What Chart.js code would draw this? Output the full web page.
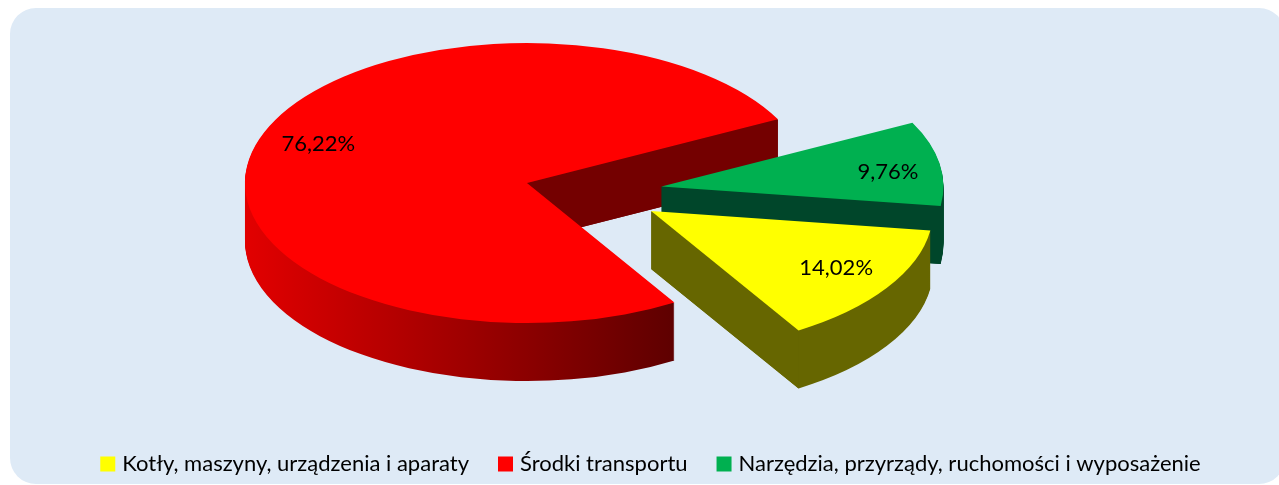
<!DOCTYPE html>
<html lang="pl">
<head>
<meta charset="utf-8">
<title>Struktura</title>
<script src="https://cdn.jsdelivr.net/npm/chart.js@4"></script>
<style>
html,body{margin:0;padding:0;background:#fff;overflow:hidden}
canvas{display:block}
</style>
</head>
<body>
<canvas id="c" width="1279" height="485"></canvas>
<script>
const categories = ['Kotły, maszyny, urządzenia i aparaty', 'Środki transportu', 'Narzędzia, przyrządy, ruchomości i wyposażenie'];
const shares = [14.02, 76.22, 9.76];
const valueLabels = ['14,02%', '76,22%', '9,76%'];
const topColors = ['#FFFF00', '#FF0000', '#00B050'];
const sideLeftColors = ['#666600', '#E20000', '#00462A'];
const sideRightColors = ['#666600', '#5E0000', '#00462A'];
const faceColors = ['#666600', '#740000', '#00462A'];
const paintOrder = [1, 2, 0];

const FONT = 'Lato, Carlito, sans-serif';
const view = {cx: 593.4, cy: 192.3, tilt: 0.4965, depth: 58, explode: 69};
const labelPlace = [{turn: -1.7, r: 0.77}, {turn: 4.8, r: 0.79}, {turn: 2, r: 0.81}];

function mapper(chart, arc) {
  const mid = (arc.startAngle + arc.endAngle) / 2;
  const dx = Math.cos(mid) * view.explode, dy = Math.sin(mid) * view.explode;
  return (angle, rad, down) => ({
    x: view.cx + dx + Math.cos(angle) * rad,
    y: view.cy + (dy + Math.sin(angle) * rad) * view.tilt + down
  });
}

function drawArcAt(ctx, arc, fill, down) {
  const mid = (arc.startAngle + arc.endAngle) / 2;
  ctx.save();
  ctx.translate(view.cx, view.cy + down);
  ctx.scale(1, view.tilt);
  ctx.translate(Math.cos(mid) * view.explode, Math.sin(mid) * view.explode);
  ctx.translate(-arc.x, -arc.y);
  const saved = arc.options;
  arc.options = Object.assign(Object.create(saved), {backgroundColor: fill});
  arc.draw(ctx);
  arc.options = saved;
  ctx.restore();
}

const tiltedPie = {
  id: 'tiltedPie',
  beforeDraw(chart) {
    const ctx = chart.ctx;
    ctx.save();
    ctx.fillStyle = '#DEEAF6';
    ctx.beginPath();
    ctx.roundRect(10, 8, 1275, 476, 26);
    ctx.fill();
    ctx.restore();
  },
  beforeDatasetDraw(chart, args) {
    const ctx = chart.ctx;
    const arcs = args.meta.data;
    paintOrder.forEach(i => {
      const arc = arcs[i];
      const R = arc.outerRadius;
      const grad = ctx.createLinearGradient(arc.x - R, 0, arc.x + Math.cos(arc.startAngle) * R, 0);
      grad.addColorStop(0, sideLeftColors[i]);
      grad.addColorStop(1, sideRightColors[i]);
      for (let d = view.depth; d > 0; d -= 1) drawArcAt(ctx, arc, grad, d);

      const at = mapper(chart, arc);
      [[arc.startAngle, -1], [arc.endAngle, 1]].forEach(([ang, side]) => {
        if (Math.cos(ang) * side <= 0) return;
        const a = at(ang, 0, 0), b = at(ang, R, 0), c = at(ang, R, view.depth), e = at(ang, 0, view.depth);
        ctx.save();
        ctx.fillStyle = faceColors[i];
        ctx.beginPath();
        ctx.moveTo(a.x, a.y); ctx.lineTo(b.x, b.y); ctx.lineTo(c.x, c.y); ctx.lineTo(e.x, e.y);
        ctx.closePath();
        ctx.fill();
        ctx.restore();
      });
      drawArcAt(ctx, arc, topColors[i], 0);
    });
    return false;
  },
  afterDatasetsDraw(chart) {
    const ctx = chart.ctx;
    const arcs = chart.getDatasetMeta(0).data;
    ctx.save();
    ctx.font = '22px ' + FONT;
    ctx.fillStyle = '#000';
    ctx.textAlign = 'center';
    ctx.textBaseline = 'middle';
    arcs.forEach((arc, i) => {
      const mid = (arc.startAngle + arc.endAngle) / 2 + labelPlace[i].turn * Math.PI / 180;
      const apex = (arc.startAngle + arc.endAngle) / 2;
      const at = mapper(chart, arc);
      const p = at(mid, arc.outerRadius * labelPlace[i].r, 0);
      ctx.fillText(valueLabels[i], p.x, p.y);
    });
    ctx.restore();
  }
};

new Chart(document.getElementById('c'), {
  type: 'pie',
  data: {
    labels: categories,
    datasets: [{data: shares, backgroundColor: topColors, borderWidth: 0, radius: 282}]
  },
  plugins: [tiltedPie],
  options: {
    responsive: false,
    animation: false,
    rotation: 98,
    layout: {padding: {left: 26, right: 0, top: 0, bottom: 0}},
    plugins: {
      tooltip: {enabled: false},
      legend: {
        position: 'bottom',
        labels: {
          boxWidth: 7,
          boxHeight: 7,
          padding: 33,
          color: '#000',
          font: {family: FONT, size: 22},
          generateLabels: () => categories.map((text, i) => ({
            text, index: i, fillStyle: topColors[i], strokeStyle: topColors[i], lineWidth: 8, hidden: false, fontColor: '#000'
          }))
        }
      }
    }
  }
});
</script>
</body>
</html>
